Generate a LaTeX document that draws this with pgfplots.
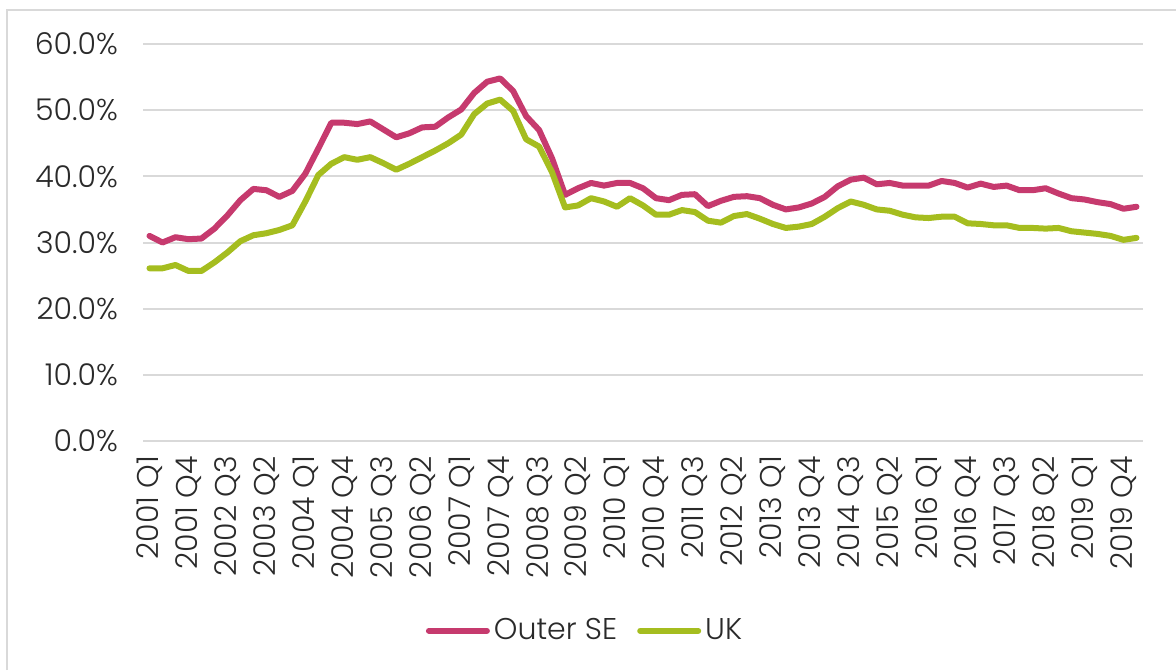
\documentclass[border=0pt]{standalone}
\usepackage{pgfplots}
\pgfplotsset{compat=1.18}
\usepackage{pgfplotstable}
\usepackage{fontspec}
\setmainfont{Poppins Light}

\definecolor{outerse}{HTML}{C63A6E}
\definecolor{uk}{HTML}{A5BD1F}
\definecolor{gridgray}{HTML}{D9D9D9}
\definecolor{txt}{HTML}{2A2A2A}

% quarter index (0 = 2001 Q1) and share in %
\pgfplotstableread{
q val
0 31.0
1 30.0
2 30.8
3 30.5
4 30.6
5 32.1
6 34.1
7 36.4
8 38.1
9 37.9
10 36.9
11 37.8
12 40.4
13 44.2
14 48.1
15 48.1
16 47.9
17 48.3
18 47.1
19 45.9
20 46.5
21 47.4
22 47.5
23 48.9
24 50.1
25 52.6
26 54.3
27 54.8
28 52.9
29 49.1
30 47.0
31 42.7
32 37.2
33 38.2
34 39.0
35 38.6
36 39.0
37 39.0
38 38.2
39 36.7
40 36.4
41 37.2
42 37.3
43 35.5
44 36.3
45 36.9
46 37.0
47 36.7
48 35.7
49 35.0
50 35.3
51 35.9
52 36.9
53 38.5
54 39.5
55 39.8
56 38.8
57 39.0
58 38.6
59 38.6
60 38.6
61 39.3
62 39.0
63 38.3
64 38.9
65 38.4
66 38.6
67 37.9
68 37.9
69 38.2
70 37.4
71 36.7
72 36.5
73 36.1
74 35.8
75 35.1
76 35.4
}\outerse

\pgfplotstableread{
q val
0 26.1
1 26.1
2 26.6
3 25.7
4 25.7
5 27.0
6 28.5
7 30.2
8 31.1
9 31.4
10 31.9
11 32.6
12 36.2
13 40.2
14 41.9
15 42.9
16 42.5
17 42.9
18 42.0
19 41.0
20 41.9
21 42.9
22 43.9
23 45.0
24 46.3
25 49.4
26 51.0
27 51.6
28 49.9
29 45.6
30 44.5
31 40.6
32 35.3
33 35.6
34 36.7
35 36.2
36 35.4
37 36.7
38 35.6
39 34.2
40 34.2
41 34.9
42 34.6
43 33.3
44 33.0
45 34.0
46 34.3
47 33.6
48 32.8
49 32.2
50 32.4
51 32.8
52 33.9
53 35.2
54 36.2
55 35.7
56 35.0
57 34.8
58 34.2
59 33.8
60 33.7
61 33.9
62 33.9
63 32.9
64 32.8
65 32.6
66 32.6
67 32.2
68 32.2
69 32.1
70 32.2
71 31.7
72 31.5
73 31.3
74 31.0
75 30.4
76 30.7
}\uk

\begin{document}
\begin{tikzpicture}
% page = 1176 x 670 px, 1 px = 0.5pt
\path[use as bounding box] (0,0) rectangle (588pt,335pt);
\draw[gridgray, line width=1pt] (3.5pt,0) -- (3.5pt,330pt) -- (588pt,330pt);

\begin{axis}[
    at={(71.5pt,114.5pt)},
    anchor=south west,
    width=500pt,
    height=198.5pt,
    scale only axis,
    xmin=-0.5, xmax=76.5,
    ymin=0, ymax=60,
    axis line style={draw=none},
    major tick length=0pt,
    ytick={0,10,...,60},
    yticklabels={0.0\%,10.0\%,20.0\%,30.0\%,40.0\%,50.0\%,60.0\%},
    ymajorgrids,
    grid style={gridgray, line width=1pt},
    xtick={0,3,...,75},
    xticklabels={2001 Q1,2001 Q4,2002 Q3,2003 Q2,2004 Q1,2004 Q4,2005 Q3,
        2006 Q2,2007 Q1,2007 Q4,2008 Q3,2009 Q2,2010 Q1,2010 Q4,2011 Q3,
        2012 Q2,2013 Q1,2013 Q4,2014 Q3,2015 Q2,2016 Q1,2016 Q4,2017 Q3,
        2018 Q2,2019 Q1,2019 Q4},
    xticklabel style={rotate=90, anchor=east, xshift=-4pt, font=\fontsize{15}{16}\selectfont, text=txt},
    yticklabel style={anchor=east, xshift=-9pt, font=\fontsize{15}{16}\selectfont, text=txt},
    legend columns=2,
    legend style={
        at={(0.443,-0.478)}, anchor=center,
        draw=none, fill=none,
        font=\fontsize{15}{16}\selectfont, text=txt,
        /tikz/every even column/.append style={column sep=8pt},
    },
    legend image code/.code={
        \draw[#1, line width=3pt, line cap=round] (0pt,0pt) -- (29pt,0pt);
    },
]
\addplot[outerse, line width=3pt, line join=round, line cap=round] table[x=q, y=val] {\outerse};
\addlegendentry{Outer SE}
\addplot[uk, line width=3pt, line join=round, line cap=round] table[x=q, y=val] {\uk};
\addlegendentry{UK}
\end{axis}
\end{tikzpicture}
\end{document}
